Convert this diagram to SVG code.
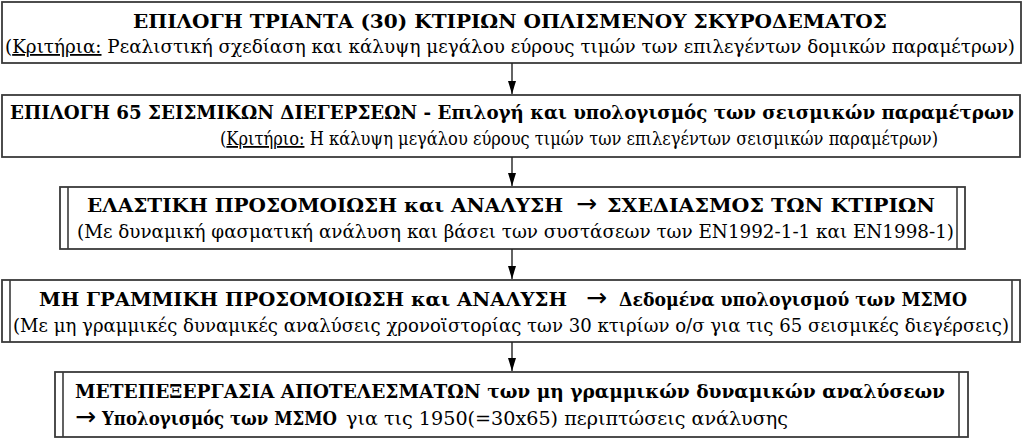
<svg xmlns="http://www.w3.org/2000/svg" width="1024" height="442" viewBox="0 0 1024 442">
<style>
  .box { fill: #ffffff; stroke: #3a3a3a; stroke-width: 1.8; }
  .inner { stroke: #3a3a3a; stroke-width: 1.6; }
  text { font-family: "DejaVu Serif", "Liberation Serif", "Times New Roman", serif; font-size: 18px; fill: #000000; }
  .b { font-weight: bold; }
  .u { text-decoration: underline; }
  .ar { font-family: "DejaVu Sans", "Liberation Sans", sans-serif; font-weight: normal; font-size: 25px; }
  .conn { stroke: #222222; stroke-width: 1.4; fill: none; }
</style>
<defs>
  <marker id="arr" viewBox="0 0 13 8" refX="13" refY="4" markerWidth="13" markerHeight="8" markerUnits="userSpaceOnUse" orient="auto">
    <path d="M0,0 L13,4 L0,8 Z" fill="#000000"/>
  </marker>
</defs>
<rect width="1024" height="442" fill="#ffffff"/>

<g id="node1">
  <rect class="box" x="2" y="2" width="1019" height="61"/>
  <text class="b" x="133" y="28" textLength="754" lengthAdjust="spacingAndGlyphs">ΕΠΙΛΟΓΗ ΤΡΙΑΝΤΑ (30) ΚΤΙΡΙΩΝ ΟΠΛΙΣΜΕΝΟΥ ΣΚΥΡΟΔΕΜΑΤΟΣ</text>
  <text x="5" y="53" textLength="1010" lengthAdjust="spacingAndGlyphs">(<tspan class="u">Κριτήρια:</tspan> Ρεαλιστική σχεδίαση και κάλυψη μεγάλου εύρους τιμών των επιλεγέντων δομικών παραμέτρων)</text>
</g>

<g id="node2">
  <rect class="box" x="2" y="95" width="1018" height="62"/>
  <text class="b" x="10" y="119" textLength="1004" lengthAdjust="spacingAndGlyphs">ΕΠΙΛΟΓΗ 65 ΣΕΙΣΜΙΚΩΝ ΔΙΕΓΕΡΣΕΩΝ - Επιλογή και υπολογισμός των σεισμικών παραμέτρων</text>
  <text x="220" y="145" textLength="718" lengthAdjust="spacingAndGlyphs">(<tspan class="u">Κριτήριο:</tspan> Η κάλυψη μεγάλου εύρους τιμών των επιλεγέντων σεισμικών παραμέτρων)</text>
</g>

<g id="node3">
  <rect class="box" x="60" y="187" width="905" height="62"/>
  <line class="inner" x1="68" y1="187" x2="68" y2="249"/>
  <line class="inner" x1="957" y1="187" x2="957" y2="249"/>
  <text class="b" x="87" y="212" textLength="476" lengthAdjust="spacingAndGlyphs">ΕΛΑΣΤΙΚΗ ΠΡΟΣΟΜΟΙΩΣΗ και ΑΝΑΛΥΣΗ</text>
  <text class="ar" x="576" y="212">→</text>
  <text class="b" x="607" y="212" textLength="328" lengthAdjust="spacingAndGlyphs">ΣΧΕΔΙΑΣΜΟΣ ΤΩΝ ΚΤΙΡΙΩΝ</text>
  <text x="77" y="238" textLength="877" lengthAdjust="spacingAndGlyphs">(Με δυναμική φασματική ανάλυση και βάσει των συστάσεων των EN1992-1-1 και EN1998-1)</text>
</g>

<g id="node4">
  <rect class="box" x="2" y="280" width="1018" height="62"/>
  <line class="inner" x1="10" y1="280" x2="10" y2="342"/>
  <line class="inner" x1="1012" y1="280" x2="1012" y2="342"/>
  <text class="b" x="39" y="306" textLength="528" lengthAdjust="spacingAndGlyphs">ΜΗ ΓΡΑΜΜΙΚΗ ΠΡΟΣΟΜΟΙΩΣΗ και ΑΝΑΛΥΣΗ</text>
  <text class="ar" x="586" y="306">→</text>
  <text class="b" x="619" y="306" textLength="348" lengthAdjust="spacingAndGlyphs">Δεδομένα υπολογισμού των ΜΣΜΟ</text>
  <text x="13" y="332" textLength="996" lengthAdjust="spacingAndGlyphs">(Με μη γραμμικές δυναμικές αναλύσεις χρονοϊστορίας των 30 κτιρίων ο/σ για τις 65 σεισμικές διεγέρσεις)</text>
</g>

<g id="node5">
  <rect class="box" x="55" y="372" width="913" height="65"/>
  <line class="inner" x1="63" y1="372" x2="63" y2="437"/>
  <line class="inner" x1="959" y1="372" x2="959" y2="437"/>
  <text class="b" x="75" y="398" textLength="870" lengthAdjust="spacingAndGlyphs">ΜΕΤΕΠΕΞΕΡΓΑΣΙΑ ΑΠΟΤΕΛΕΣΜΑΤΩΝ των μη γραμμικών δυναμικών αναλύσεων</text>
  <text class="ar" x="75" y="425">→</text>
  <text class="b" x="102" y="425" textLength="235" lengthAdjust="spacingAndGlyphs">Υπολογισμός των ΜΣΜΟ</text>
  <text x="346" y="425" textLength="442" lengthAdjust="spacingAndGlyphs">για τις 1950(=30x65) περιπτώσεις ανάλυσης</text>
</g>

<g id="connectors">
  <line class="conn" x1="512" y1="63" x2="512" y2="94" marker-end="url(#arr)"/>
  <line class="conn" x1="512" y1="157" x2="512" y2="186" marker-end="url(#arr)"/>
  <line class="conn" x1="512" y1="249" x2="512" y2="279" marker-end="url(#arr)"/>
  <line class="conn" x1="512" y1="342" x2="512" y2="371" marker-end="url(#arr)"/>
</g>
</svg>
